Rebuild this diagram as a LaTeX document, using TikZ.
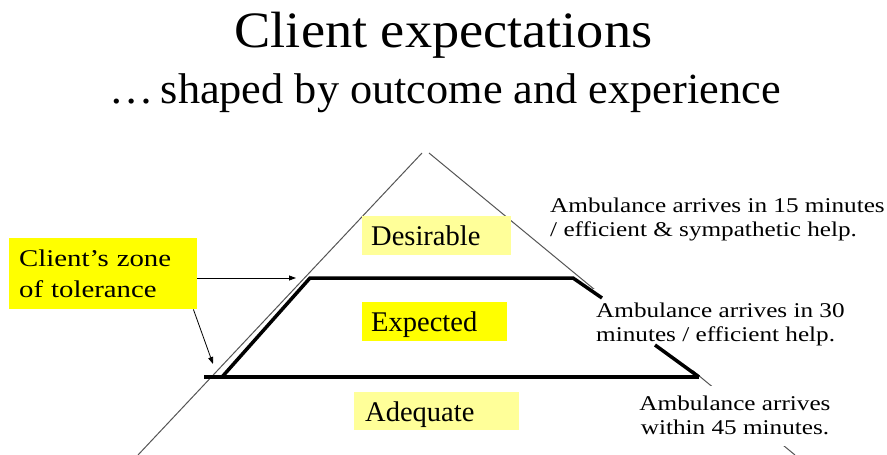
\documentclass[tikz,border=0pt]{standalone}
\usepackage{fontspec}
\setmainfont{Liberation Serif}
\newfontfamily\widefont[FakeStretch=1.2]{Liberation Serif}
\newfontfamily\titlefont[FakeStretch=1.065]{Liberation Serif}
\newfontfamily\subtitlefont[FakeStretch=1.03]{Liberation Serif}
\usetikzlibrary{arrows.meta}
\definecolor{boxyellow}{HTML}{FFFF00}
\definecolor{paleyellow}{HTML}{FFFF99}
\definecolor{edgegray}{HTML}{555555}
\begin{document}
\begin{tikzpicture}[x=1pt,y=-1pt,
  tier/.style={rectangle, inner ysep=0pt, text height=20pt, text depth=0pt,
    minimum height=39pt, align=left, anchor=north west,
    font=\fontsize{28.5}{34}\selectfont},
  note/.style={inner sep=0pt, align=left, anchor=north west,
    font=\widefont\fontsize{21}{24}\selectfont},
  edge/.style={draw=edgegray, line width=1pt},
  band/.style={draw=black, line width=3.5pt, line join=miter},
  pointer/.style={draw=black, line width=0.8pt, -{Triangle[length=7pt,width=5pt]}}]
\useasboundingbox (0,0) rectangle (887,455);
\fill[white] (0,0) rectangle (887,455);

% headings
\node[font=\titlefont\fontsize{51}{60}\selectfont, anchor=base, inner sep=0pt] (title) at (443.5,47) {Client expectations};
\node[font=\subtitlefont\fontsize{43}{50}\selectfont, anchor=base, inner sep=0pt] (subtitle) at (445,103) {…\,shaped by outcome and experience};

% outer triangle (two thin sides, open at the apex)
\draw[edge] (422,153) -- (138,455);
\draw[edge] (429,153) -- (795,455);

% white backing behind the right-hand notes
\fill[white] (590,289) rectangle (860,370);
\fill[white] (636,386) rectangle (840,446);

% notes
\node[note] (n15) at (550,197.5) {Ambulance arrives in 15 minutes\\/ efficient \& sympathetic help.};
\node[note] (n30) at (596,302.5) {Ambulance arrives in 30\\minutes / efficient help.};
\node[note, align=center, anchor=north] (n45) at (735,395.5) {Ambulance arrives\\within 45 minutes.};

% tolerance band
\draw[band] (204,377) -- (699,377);
\draw[band] (222,377) -- (310,278) -- (573,278) -- (602,298);
\draw[band] (655,345) -- (699,377);

% tiers
\node[tier, fill=paleyellow, inner xsep=9pt, text width=131pt] (des) at (362,216) {Desirable};
\node[tier, fill=boxyellow, inner xsep=9pt, text width=127pt] (exp) at (362,302) {Expected};
\node[tier, fill=paleyellow, inner xsep=11pt, text width=143pt, minimum height=38pt] (ade) at (354,392) {Adequate};

% zone of tolerance callout
\node[fill=boxyellow, inner xsep=10pt, inner ysep=0pt, text width=168pt, minimum height=71pt,
  align=left, anchor=north west, font=\widefont\fontsize{24}{31}\selectfont] (zone) at (9,238)
  {Client’s zone\\of tolerance};
\coordinate (hit1) at (296,278);
\coordinate (hit2) at (213,364);
\draw[pointer] (zone.east |- hit1) -- (hit1);
\draw[pointer] ([xshift=-4pt]zone.south east) -- (hit2);
\end{tikzpicture}
\end{document}
